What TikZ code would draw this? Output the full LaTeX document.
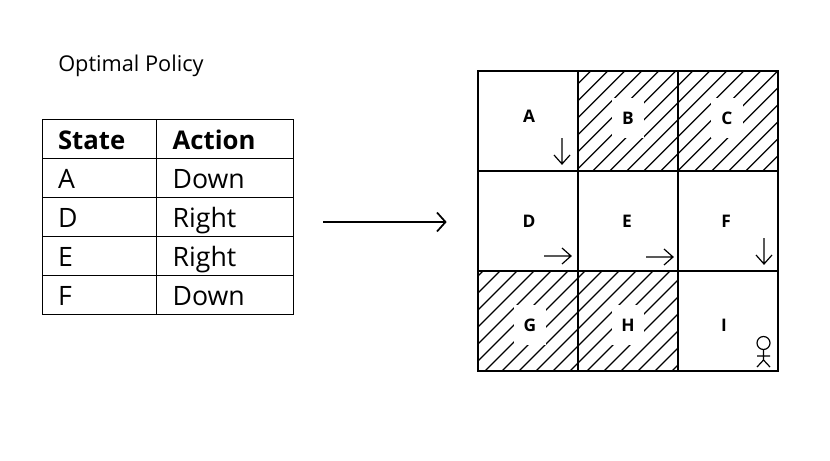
\documentclass[tikz,border=0pt]{standalone}
\usepackage{fontspec}
\setmainfont{Open Sans}
\newcommand{\hatchcell}[5]{% x0 y0 x1 y1 phase
  \begin{scope}
    \clip (#1,#2) rectangle (#3,#4);
    \foreach \k in {-4,...,22} {
      \pgfmathsetmacro{\cc}{#5+17*\k}
      \draw[hatch] ({\cc-#2},#2) -- ({\cc-#4},#4);
    }
  \end{scope}
}
\tikzset{
  x=0.75pt, y=-0.75pt,
  hatch/.style={line width=0.95pt, black},
  cellbox/.style={draw=black, line width=0.95pt, minimum width=75pt, minimum height=75pt, inner sep=0pt, outer sep=0pt},
  gaplabel/.style={fill=white, font=\bfseries\fontsize{13}{15}\selectfont, minimum width=24pt, minimum height=30pt, inner sep=0pt},
  plainlabel/.style={font=\bfseries\fontsize{13}{15}\selectfont, inner sep=0pt},
  tcell/.style={draw=black, line width=0.75pt, inner sep=0pt, outer sep=0pt, minimum height=29.25pt, anchor=north west, text height=21pt, text depth=3.8pt, align=left},
  colA/.style={tcell, minimum width=85.5pt, text width=61.5pt},
  colB/.style={tcell, minimum width=103pt, text width=78pt},
  cellfont/.style={font=\fontsize{20}{22}\selectfont},
  headfont/.style={font=\bfseries\fontsize{19.3}{22}\selectfont},
  thinarrow/.style={draw=black, line width=0.9pt},
  bigarrow/.style={draw=black, line width=1.3pt},
}
\begin{document}
\begin{tikzpicture}
\useasboundingbox[fill=white] (0,0) rectangle (830,460);
% title
\node[anchor=west, inner sep=0pt, font=\fontsize{16.3}{18}\selectfont] (title) at (58,65.5) {Optimal Policy};
% table
\node[colA, headfont] (h1) at (42,119) {State};
\node[colB, headfont] (h2) at (156,119) {Action};
\node[colA, cellfont] (a1) at (42,158) {A};
\node[colB, cellfont] (b1) at (156,158) {Down};
\node[colA, cellfont] (a2) at (42,197) {D};
\node[colB, cellfont] (b2) at (156,197) {Right};
\node[colA, cellfont] (a3) at (42,236) {E};
\node[colB, cellfont] (b3) at (156,236) {Right};
\node[colA, cellfont] (a4) at (42,275) {F};
\node[colB, cellfont] (b4) at (156,275) {Down};
% big arrow
\coordinate (arrowS) at (323,222);
\coordinate (arrowE) at (445.5,222);
\draw[bigarrow] (arrowS) -- (arrowE);
\draw[bigarrow] (437,212.5) -- (arrowE) -- (437,231.5);
% hatching
\hatchcell{578}{71}{678}{171}{661.7}
\hatchcell{678}{71}{778}{171}{661.7}
\hatchcell{478}{271}{578}{371}{771}
\hatchcell{578}{271}{678}{371}{771}
% grid
\node[cellbox] (cA) at (528,121) {};
\node[cellbox] (cB) at (628,121) {};
\node[cellbox] (cC) at (728,121) {};
\node[cellbox] (cD) at (528,221) {};
\node[cellbox] (cE) at (628,221) {};
\node[cellbox] (cF) at (728,221) {};
\node[cellbox] (cG) at (528,321) {};
\node[cellbox] (cH) at (628,321) {};
\node[cellbox] (cI) at (728,321) {};
% labels
\node[plainlabel] (lA) at (529,116) {A};
\node[gaplabel] (lB) at (628,118) {B};
\node[gaplabel] (lC) at (727,118) {C};
\node[plainlabel] (lD) at (529,221) {D};
\node[plainlabel] (lE) at (627,221) {E};
\node[plainlabel] (lF) at (726,221) {F};
\node[gaplabel] (lG) at (530,325) {G};
\node[gaplabel] (lH) at (628,325) {H};
\node[plainlabel] (lI) at (724,325) {I};
% small arrows
\coordinate (aS) at (562,138); \coordinate (aE) at (562,164);
\draw[thinarrow] (aS) -- (aE) (554,155) -- (aE) -- (570,155);
\coordinate (dS) at (544,256); \coordinate (dE) at (571,256);
\draw[thinarrow] (dS) -- (dE) (562,248) -- (dE) -- (562,264);
\coordinate (eS) at (646,257); \coordinate (eE) at (673,257);
\draw[thinarrow] (eS) -- (eE) (664,249) -- (eE) -- (664,265);
\coordinate (fS) at (764,238); \coordinate (fE) at (764,264);
\draw[thinarrow] (fS) -- (fE) (756,255) -- (fE) -- (772,255);
% stick figure
\coordinate (head) at (763.5,343);
\draw[thinarrow] (head) circle (6.5);
\draw[thinarrow] (763.5,349.5) -- (763.5,360) (757,356) -- (770,356)
  (757,367) -- (763.5,360) -- (770,367);
\end{tikzpicture}
\end{document}
